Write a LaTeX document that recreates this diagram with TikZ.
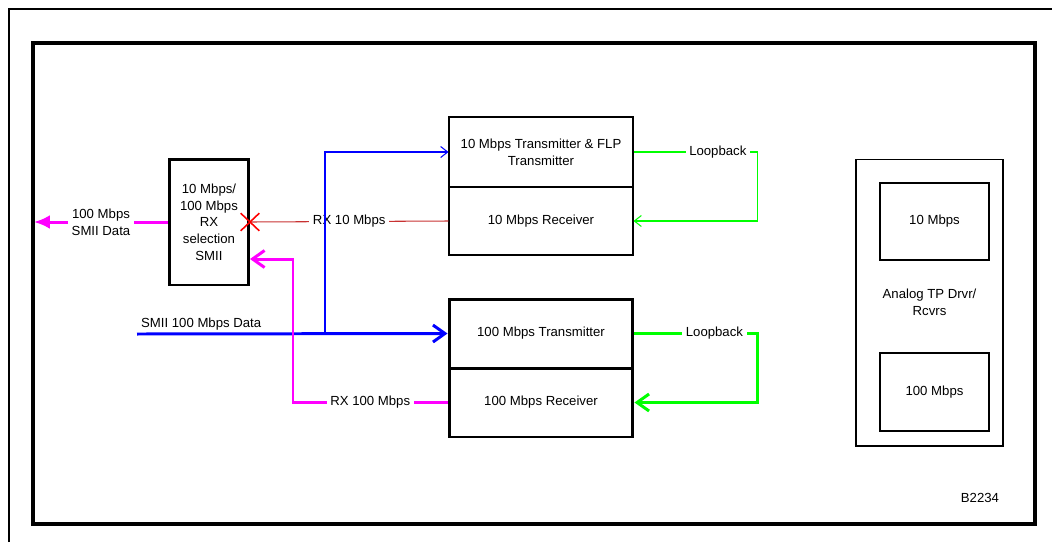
\documentclass[tikz,border=0pt]{standalone}
\usepackage{fontspec}
\setmainfont{Liberation Sans}
\usepackage{tikz}
\usetikzlibrary{arrows.meta,shapes.misc}
\definecolor{lmag}{HTML}{FF00FF}
\definecolor{lblue}{HTML}{0000FF}
\definecolor{lgreen}{HTML}{00FF00}
\definecolor{lred}{HTML}{FF0000}
\definecolor{lrust}{HTML}{C83232}
\newcommand{\diagfont}{\fontsize{7.5}{9.5}\selectfont}
\tikzset{
  blk/.style={draw,line width=0.6pt,minimum width=3.68cm,inner sep=0pt,align=center,font=\diagfont},
  bblk/.style={blk,line width=1.7pt},
  lbl/.style={fill=white,text=black,inner sep=2pt,align=center,font=\diagfont},
  thinwire/.style={line width=0.6pt,-{Straight Barb[length=0.14cm,width=0.22cm]}},
  fatwire/.style={line width=1.7pt,-{Straight Barb[length=0.24cm,width=0.34cm]}}
}

\begin{document}
\begin{tikzpicture}[x=0.02cm,y=-0.02cm]
\useasboundingbox (0,0) rectangle (1052,542);
\draw[line width=1.3pt] (9,542) -- (9,9) -- (1052,9);
\draw[line width=1.8pt] (33,43) rectangle (1035,524);

\node[bblk,minimum width=1.58cm,minimum height=2.52cm] (sel) at (209,222) {10 Mbps/\\100 Mbps\\RX\\selection\\SMII};
\node[blk,minimum height=1.4cm] (txten) at (541,152) {10 Mbps Transmitter \& FLP\\Transmitter};
\node[blk,minimum height=1.36cm] (rxten) at (541,221) {10 Mbps Receiver};
\node[bblk,minimum height=1.38cm] (txhund) at (541,333.5) {100 Mbps Transmitter};
\node[bblk,minimum height=1.38cm] (rxhund) at (541,402.5) {100 Mbps Receiver};
\node[blk,minimum width=2.94cm,minimum height=5.74cm] (analog) at (929.5,302.5) {Analog TP Drvr/\\Rcvrs};
\node[blk,minimum width=2.18cm,minimum height=1.54cm] (anten) at (934.5,221.5) {10 Mbps};
\node[blk,minimum width=2.18cm,minimum height=1.56cm] (anhund) at (934.5,392) {100 Mbps};
\node[font=\diagfont] (figno) at (980,498) {B2234};

\coordinate (smiiout) at (34,222);
\coordinate (smiiin) at (137,334);
\coordinate (tap) at (325,334);
\coordinate (rxin) at (293,259);

\draw[lmag,line width=1.7pt,-{Latex[length=0.32cm,width=0.28cm]}] (sel.west) -- node[lbl]{100 Mbps\\SMII Data} (smiiout);
\draw[lrust,line width=0.6pt] (rxten.west) -- node[lbl]{RX 10 Mbps} (sel.east);
\node[cross out,draw=lred,line width=0.9pt,minimum width=0.34cm,minimum height=0.32cm,inner sep=0pt] (xmark) at (sel.east) {};
\draw[lblue,thinwire] (tap) |- (txten.west);
\draw[lblue,fatwire] (smiiin) -- node[pos=0,anchor=south west,inner sep=1.5pt,font=\diagfont,text=black]{SMII 100 Mbps Data} (txhund.west);
\draw[lmag,fatwire] (rxhund.west) -- node[lbl]{RX 100 Mbps} (rxhund.west -| rxin) -- (rxin) -- (sel.east |- rxin);
\draw[lgreen,thinwire] (txten.east) -- node[lbl,pos=0.68]{Loopback} ++(124,0) |- (rxten.east);
\draw[lgreen,fatwire] (txhund.east) -- node[lbl,pos=0.65]{Loopback} ++(123,0) |- (rxhund.east);
\end{tikzpicture}
\end{document}
